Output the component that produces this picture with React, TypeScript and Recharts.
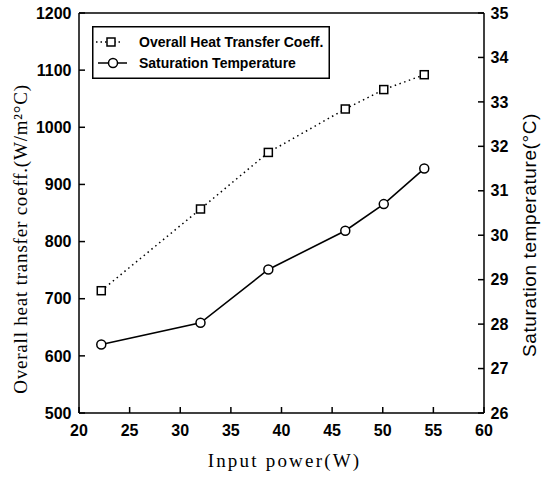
import React from 'react';
import { LineChart, Line, XAxis, YAxis, Legend, ReferenceLine, Label } from 'recharts';

// Measured operating points
const inputPower = [22.2, 32.0, 38.7, 46.3, 50.1, 54.1];
const heatTransferCoeff = [714, 857, 956, 1032, 1066, 1092];
const saturationTemp = [27.54, 28.03, 29.23, 30.1, 30.7, 31.5];

const powerTicks = [20, 25, 30, 35, 40, 45, 50, 55, 60];
const coeffTicks = [500, 600, 700, 800, 900, 1000, 1100, 1200];
const tempTicks = [26, 27, 28, 29, 30, 31, 32, 33, 34, 35];

const seriesNames = ['Overall Heat Transfer Coeff.', 'Saturation Temperature'];

const rows = inputPower.map((p, i) => ({
  power: p,
  coeff: heatTransferCoeff[i],
  temp: saturationTemp[i],
}));

const INK = '#000';
const tickFont = {
  fill: INK,
  fontFamily: '"Liberation Sans", Arial, sans-serif',
  fontSize: 16,
  fontWeight: 700,
};

const SquareDot = (props: any) => {
  const { cx, cy, index } = props;
  if (cx == null || cy == null) return null;
  const s = 8;
  return (
    <rect
      key={`sq-${index}`}
      x={cx - s / 2}
      y={cy - s / 2}
      width={s}
      height={s}
      fill="#fff"
      stroke={INK}
      strokeWidth={1.5}
    />
  );
};

const LegendBox = () => (
  <svg width={238} height={53} style={{ display: 'block' }}>
    <rect x={0.75} y={0.75} width={236.5} height={51.5} fill="#fff" stroke={INK} strokeWidth={1.5} />
    <line x1={4} y1={16} x2={30} y2={16} stroke={INK} strokeWidth={1.5} strokeDasharray="1.5 3" />
    <rect x={15} y={12} width={8} height={8} fill="#fff" stroke={INK} strokeWidth={1.5} />
    <text x={47} y={16} dominantBaseline="central" style={{ ...tickFont, fontSize: 14 }}>
      {seriesNames[0]}
    </text>
    <line x1={6} y1={37} x2={35} y2={37} stroke={INK} strokeWidth={1.5} />
    <circle cx={21} cy={37} r={4.5} fill="#fff" stroke={INK} strokeWidth={1.5} />
    <text x={47} y={37} dominantBaseline="central" style={{ ...tickFont, fontSize: 14 }}>
      {seriesNames[1]}
    </text>
  </svg>
);

const serifTitle = {
  fill: INK,
  fontFamily: '"Liberation Serif", "Times New Roman", serif',
  fontSize: 19,
};

export default function App() {
  return (
    <div style={{ position: 'absolute', left: 0, top: 0, width: 548, height: 477, background: '#fff' }}>
      <LineChart width={548} height={477} data={rows} margin={{ top: 13, right: 0, bottom: 0, left: 0 }}>
        <XAxis
          dataKey="power"
          type="number"
          domain={[20, 60]}
          ticks={powerTicks}
          interval={0}
          height={64}
          tickSize={-6}
          tickMargin={18}
          tick={tickFont}
          axisLine={{ stroke: INK, strokeWidth: 1.5 }}
          tickLine={{ stroke: INK, strokeWidth: 1.5 }}
        >
          <Label
            content={(p: any) => {
              const vb = p.viewBox;
              return (
                <text
                  x={vb.x + vb.width / 2 + 3}
                  y={vb.y + 54}
                  textAnchor="middle"
                  style={{ ...serifTitle, letterSpacing: 2.2 }}
                >
                  Input power(W)
                </text>
              );
            }}
          />
        </XAxis>
        <YAxis
          yAxisId="left"
          domain={[500, 1200]}
          ticks={coeffTicks}
          interval={0}
          width={79}
          tickSize={-6}
          tickMargin={13.5}
          tick={tickFont}
          axisLine={{ stroke: INK, strokeWidth: 1.5 }}
          tickLine={{ stroke: INK, strokeWidth: 1.5 }}
        >
          <Label
            content={(p: any) => {
              const vb = p.viewBox;
              const x = vb.x + 26.5;
              const y = vb.y + vb.height / 2 + 26;
              return (
                <text
                  x={x}
                  y={y}
                  textAnchor="middle"
                  transform={`rotate(-90, ${x}, ${y})`}
                  style={{ ...serifTitle, letterSpacing: 0.8 }}
                >
                  Overall heat transfer coeff.(W/m²°C)
                </text>
              );
            }}
          />
        </YAxis>
        <YAxis
          yAxisId="right"
          orientation="right"
          domain={[26, 35]}
          ticks={tempTicks}
          interval={0}
          width={64}
          tickSize={-6}
          tickMargin={12.5}
          tick={tickFont}
          axisLine={{ stroke: INK, strokeWidth: 1.5 }}
          tickLine={{ stroke: INK, strokeWidth: 1.5 }}
        >
          <Label
            content={(p: any) => {
              const vb = p.viewBox;
              const x = vb.x + 52;
              const y = vb.y + vb.height / 2 + 22;
              return (
                <text
                  x={x}
                  y={y}
                  textAnchor="middle"
                  transform={`rotate(-90, ${x}, ${y})`}
                  style={{
                    fill: INK,
                    fontFamily: '"Liberation Sans", Arial, sans-serif',
                    fontSize: 19,
                    letterSpacing: 0.6,
                  }}
                >
                  Saturation temperature(°C)
                </text>
              );
            }}
          />
        </YAxis>
        <ReferenceLine yAxisId="left" y={1200} stroke={INK} strokeWidth={1.5} />
        <Line
          yAxisId="left"
          dataKey="coeff"
          name={seriesNames[0]}
          stroke={INK}
          strokeWidth={1.5}
          strokeDasharray="1.5 3.5"
          dot={SquareDot}
          activeDot={false}
          isAnimationActive={false}
        />
        <Line
          yAxisId="right"
          dataKey="temp"
          name={seriesNames[1]}
          stroke={INK}
          strokeWidth={1.6}
          dot={{ r: 4.5, fill: '#fff', stroke: INK, strokeWidth: 1.5 }}
          activeDot={false}
          isAnimationActive={false}
        />
        <Legend
          layout="vertical"
          align="center"
          verticalAlign="middle"
          content={() => <LegendBox />}
          wrapperStyle={{ position: 'absolute', left: 92, top: 26, width: 238, height: 53 }}
        />
      </LineChart>
    </div>
  );
}
